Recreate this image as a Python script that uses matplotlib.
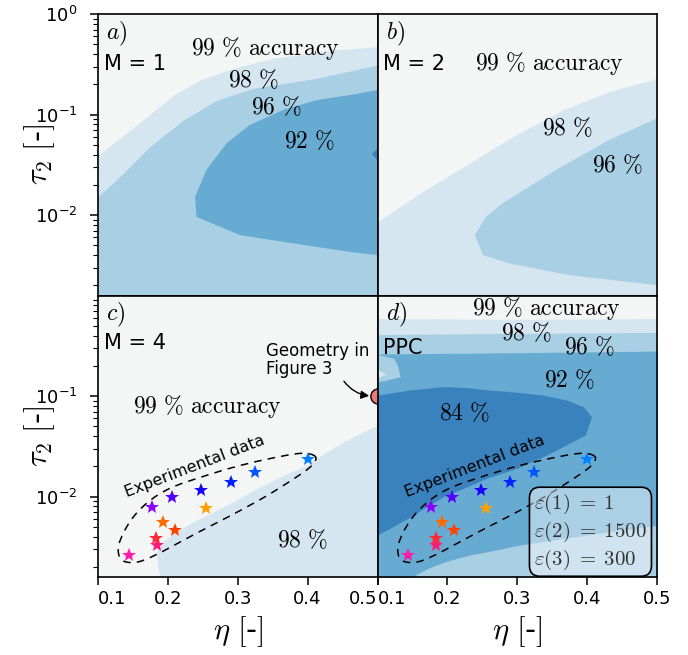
import numpy as np
import matplotlib.pyplot as plt
from matplotlib.path import Path
from matplotlib.patches import PathPatch

plt.rcParams['mathtext.fontset'] = 'cm'
plt.rcParams['font.family'] = ['DejaVu Sans']

# contour colours (accuracy levels)
c99, c98, c96, c92, c84 = '#f4f6f6', '#d5e6f0', '#a8cfe4', '#67aad2', '#3a82bd'

# a) M = 1 : level boundaries
eta_a98 = [0.100, 0.131, 0.170, 0.208, 0.246, 0.293, 0.350, 0.436, 0.500]
tau_a98 = [0.0395, 0.058, 0.095, 0.156, 0.22, 0.288, 0.362, 0.438, 0.473]
eta_a96 = [0.100, 0.136, 0.174, 0.222, 0.270, 0.322, 0.412, 0.500]
tau_a96 = [0.0152, 0.026, 0.0478, 0.088, 0.139, 0.182, 0.229, 0.311]
eta_a92 = [0.500, 0.460, 0.412, 0.365, 0.317, 0.284, 0.255, 0.239, 0.241, 0.303, 0.365, 0.460, 0.500]
tau_a92 = [0.175, 0.156, 0.139, 0.111, 0.0787, 0.0517, 0.028, 0.0152, 0.0096, 0.00633, 0.00542, 0.00431, 0.0040]
eta_a84 = [0.500, 0.492, 0.500]
tau_a84 = [0.046, 0.0405, 0.0353]

# b) M = 2
eta_b98 = [0.100, 0.160, 0.231, 0.293, 0.365, 0.431, 0.500]
tau_b98 = [0.00858, 0.0164, 0.0327, 0.060, 0.111, 0.169, 0.229]
eta_b96 = [0.500, 0.431, 0.355, 0.279, 0.255, 0.239, 0.251, 0.289, 0.374, 0.500]
tau_b96 = [0.0916, 0.0557, 0.028, 0.0131, 0.0096, 0.00633, 0.0040, 0.0033, 0.00253, 0.00201]

# c) M = 4
eta_c98 = [0.189, 0.184, 0.193, 0.212, 0.236, 0.265, 0.293, 0.327, 0.365, 0.398, 0.427, 0.455, 0.479, 0.500]
tau_c98 = [0.0015, 0.00277, 0.00348, 0.00438, 0.00551, 0.00692, 0.00869, 0.0118, 0.016, 0.0201,
           0.0273, 0.0356, 0.0432, 0.0502]

# d) PPC
eta_d_band = [0.10, 0.30, 0.50]
tau_d98 = [0.59, 0.58, 0.59]
tau_d96 = [0.41, 0.42, 0.43]
tau_d92 = [0.262, 0.27, 0.28]
eta_d_nose = [0.100, 0.124, 0.130, 0.133, 0.114, 0.100]
tau_d_nose = [0.257, 0.235, 0.194, 0.154, 0.143, 0.136]
eta_d_nose98 = [0.100, 0.113, 0.100]
tau_d_nose98 = [0.184, 0.163, 0.151]
eta_d84 = [0.100, 0.148, 0.195, 0.229, 0.257, 0.300, 0.338, 0.371, 0.395, 0.407, 0.398, 0.348,
           0.300, 0.257, 0.224, 0.195, 0.171, 0.148, 0.119, 0.100]
tau_d84 = [0.101, 0.114, 0.123, 0.120, 0.114, 0.108, 0.101, 0.0904, 0.0776, 0.0617, 0.0406, 0.0267,
           0.0189, 0.0151, 0.012, 0.00989, 0.00787, 0.00625, 0.0048, 0.00411]
eta_d96low = [0.148, 0.171, 0.195, 0.229, 0.267, 0.300, 0.395, 0.500]
tau_d96low = [0.00157, 0.00192, 0.00223, 0.0026, 0.00292, 0.00327, 0.00411, 0.00517]

# experimental data points
eta_exp = [0.144, 0.184, 0.183, 0.210, 0.193, 0.255, 0.177, 0.206, 0.248, 0.290, 0.324, 0.400]
tau_exp = [2.6e-3, 3.3e-3, 3.9e-3, 4.7e-3, 5.6e-3, 7.7e-3, 7.8e-3, 1.0e-2, 1.17e-2, 1.4e-2, 1.75e-2, 2.34e-2]
col_exp = ['#ff1aaa', '#ff1a75', '#ff2a3a', '#ff4400', '#ff6a00', '#ffa000',
           '#8c00ff', '#5500ff', '#1a00ff', '#0022ff', '#0055ff', '#0080ff']

# dashed outline around the experimental data (anchor points)
eta_out = [0.411, 0.389, 0.340, 0.293, 0.246, 0.203, 0.171, 0.146, 0.130, 0.133, 0.153, 0.181,
           0.246, 0.293, 0.340, 0.383, 0.406]
tau_out = [0.0251, 0.0269, 0.0234, 0.0195, 0.0155, 0.0121, 0.00875, 0.00567, 0.00335, 0.00238,
           0.00222, 0.0026, 0.00451, 0.00665, 0.01005, 0.0155, 0.0204]

ylo, yhi = 10**-2.8, 1.0
bot = 1e-4

fig, axes = plt.subplots(2, 2, figsize=(6.88, 6.55), dpi=100)
fig.subplots_adjust(left=0.1424, right=0.955, top=0.9786, bottom=0.119, wspace=0, hspace=0)
axa, axb, axc, axd = axes.ravel()

for ax in axes.ravel():
    ax.set_yscale('log')
    ax.set_xlim(0.1, 0.5)
    ax.set_facecolor(c99)
    for s in ax.spines.values():
        s.set_linewidth(1.2)
    ax.tick_params(which='major', direction='out', length=6, width=1.1, labelsize=13)
    ax.tick_params(which='minor', direction='out', length=3.5, width=0.8)
    ax.tick_params(axis='y', which='major', pad=9)

# a)
axa.fill_between(eta_a98, tau_a98, bot, color=c98, lw=0)
axa.fill_between(eta_a96, tau_a96, bot, color=c96, lw=0)
axa.fill(eta_a92, tau_a92, color=c92, lw=0)
axa.fill(eta_a84, tau_a84, color=c84, lw=0)

# b)
axb.fill_between(eta_b98, tau_b98, bot, color=c98, lw=0)
axb.fill(eta_b96 + [0.5], tau_b96 + [bot], color=c96, lw=0)

# c)
axc.fill(eta_c98 + [0.5, 0.189], tau_c98 + [bot, bot], color=c98, lw=0)

# d)
axd.fill_between(eta_d_band, tau_d98, bot, color=c98, lw=0)
axd.fill_between(eta_d_band, tau_d96, bot, color=c96, lw=0)
axd.fill_between(eta_d_band, tau_d92, bot, color=c92, lw=0)
axd.fill(eta_d_nose, tau_d_nose, color=c96, lw=0)
axd.fill(eta_d_nose98, tau_d_nose98, color=c98, lw=0)
axd.fill(eta_d84, tau_d84, color=c84, lw=0)
axd.fill_between(eta_d96low, tau_d96low, bot, color=c96, lw=0)

for ax in axes.ravel():
    ax.set_ylim(ylo, yhi)

axa.set_yticks([1e-2, 1e-1, 1e0])
axc.set_yticks([1e-2, 1e-1])
for ax in (axa, axc):
    ax.set_ylim(ylo, yhi)
    ax.set_ylabel(r'$\tau_2\ [$-$]$', fontsize=22)
    ax.yaxis.set_label_coords(-0.145, 0.5)
for ax in (axb, axd):
    ax.tick_params(axis='y', which='both', left=False, labelleft=False)
for ax in (axa, axb):
    ax.tick_params(axis='x', which='both', bottom=False, labelbottom=False)
for ax in (axc, axd):
    ax.set_xticks([0.1, 0.2, 0.3, 0.4, 0.5])
    ax.set_xticklabels(['0.1', '0.2', '0.3', '0.4', '0.5'])
    ax.set_xlabel(r'$\eta\ [$-$]$', fontsize=22)
    ax.get_xticklabels()[0].set_ha('left')
axc.get_xticklabels()[-1].set_ha('right')

# panel labels
for ax, lab, mlab, my in [(axa, r'$a)$', 'M = 1', 0.822), (axb, r'$b)$', 'M = 2', 0.822),
                          (axc, r'$c)$', 'M = 4', 0.83), (axd, r'$d)$', 'PPC', 0.815)]:
    ax.text(0.03, 0.93, lab, transform=ax.transAxes, fontsize=17, ha='left', va='center')
    ax.text(0.02, my, mlab, transform=ax.transAxes, fontsize=15, ha='left', va='center')

def lvl(ax, x, y, s):
    ax.text(x, y, s, transform=ax.transAxes, fontsize=17, ha='center', va='center')

acc = r'$\mathrm{99\ \%\ accuracy}$'
lvl(axa, 0.60, 0.878, acc)
lvl(axa, 0.555, 0.766, r'$\mathrm{98\ \%}$')
lvl(axa, 0.638, 0.669, r'$\mathrm{96\ \%}$')
lvl(axa, 0.757, 0.547, r'$\mathrm{92\ \%}$')
lvl(axb, 0.614, 0.825, acc)
lvl(axb, 0.68, 0.595, r'$\mathrm{98\ \%}$')
lvl(axb, 0.858, 0.465, r'$\mathrm{96\ \%}$')
lvl(axc, 0.39, 0.605, acc)
lvl(axc, 0.73, 0.132, r'$\mathrm{98\ \%}$')
lvl(axd, 0.605, 0.955, acc)
lvl(axd, 0.533, 0.868, r'$\mathrm{98\ \%}$')
lvl(axd, 0.757, 0.815, r'$\mathrm{96\ \%}$')
lvl(axd, 0.686, 0.70, r'$\mathrm{92\ \%}$')
lvl(axd, 0.311, 0.582, r'$\mathrm{84\ \%}$')


def closed_curve(ax, xs, ys):
    # smooth closed outline (Catmull-Rom -> cubic Bezier) in axes coordinates
    pts = ax.transAxes.inverted().transform(ax.transData.transform(np.column_stack([xs, ys])))
    n = len(pts)
    verts = [pts[0]]
    codes = [Path.MOVETO]
    for i in range(n):
        p0, p1, p2, p3 = pts[i - 1], pts[i], pts[(i + 1) % n], pts[(i + 2) % n]
        verts += [p1 + (p2 - p0) / 6, p2 - (p3 - p1) / 6, p2]
        codes += [Path.CURVE4] * 3
    return PathPatch(Path(verts, codes), transform=ax.transAxes, fill=False,
                     ls=(0, (5, 4)), lw=1.1, ec='black', zorder=4)


for ax in (axc, axd):
    for e, t, c in zip(eta_exp, tau_exp, col_exp):
        ax.plot(e, t, '*', ms=10.5, color=c, mew=0, zorder=5)
    ax.add_patch(closed_curve(ax, eta_out, tau_out))
    ax.text(0.2386, 0.0198, 'Experimental data', rotation=21, rotation_mode='anchor',
            ha='center', va='center', fontsize=11.5, zorder=6)

# geometry used in figure 3
axc.plot(0.5, 0.1, 'o', ms=11, mfc='#f07878', mec='black', mew=1, clip_on=False, zorder=10)
axc.annotate('Geometry in\nFigure 3', xy=(0.5, 0.1), xytext=(0.341, 0.226), fontsize=12,
             ha='left', va='center', linespacing=1.0,
             arrowprops=dict(arrowstyle='-|>', color='black', lw=1, mutation_scale=12,
                             connectionstyle='arc3,rad=0.3', shrinkA=0, shrinkB=6,
                             relpos=(0.72, 0.05)))

# epsilon box
axd.text(0.56, 0.161,
         '$\\varepsilon(1)\\;=\\;1$\n$\\varepsilon(2)\\;=\\;1500$\n$\\varepsilon(3)\\;=\\;300$',
         transform=axd.transAxes, fontsize=15, ha='left', va='center', color='#333333',
         linespacing=1.22, zorder=8,
         bbox=dict(boxstyle='round,pad=0.22,rounding_size=0.5', fc=(1, 1, 1, 0.45),
                   ec='black', lw=1.2))

fig.savefig('out.png', dpi=100)
